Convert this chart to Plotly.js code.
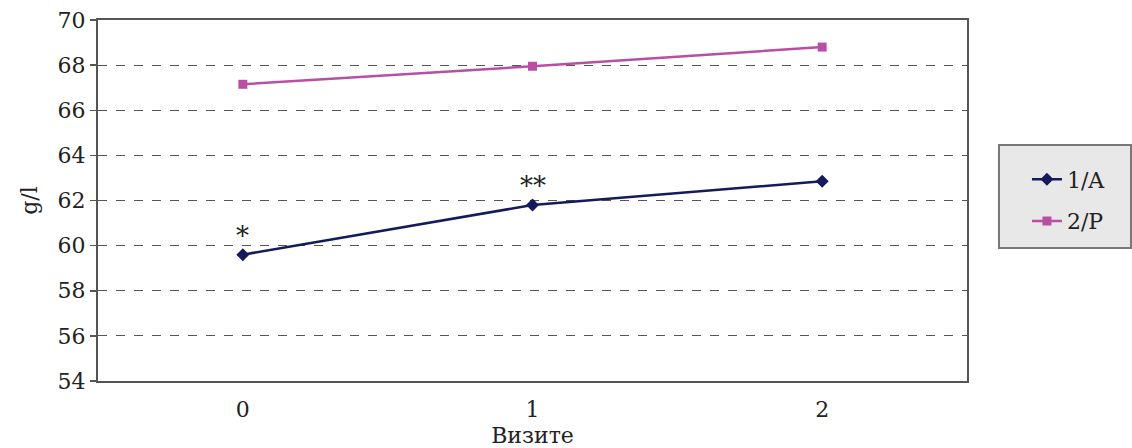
<!DOCTYPE html>
<html>
<head>
<meta charset="utf-8">
<script src="https://cdn.plot.ly/plotly-3.0.1.min.js"></script>
<style>
  html, body { margin: 0; padding: 0; background: #fff; }
  #chart { width: 1132px; height: 448px; }
</style>
</head>
<body>
<div id="chart"></div>
<script>
// Visits and mean values (g/l) for the two groups
const visits = [0, 1, 2];
const groupA = [59.6, 61.8, 62.85];
const groupP = [67.15, 67.95, 68.8];
const seriesNames = ['1/A', '2/P'];
const yTicks = [54, 56, 58, 60, 62, 64, 66, 68, 70];
// Significance markers placed above group A points
const markVisits = [0, 1];
const markLabels = ['*', '**'];

const family = 'DejaVu Serif, Liberation Serif, serif';
const font = { family: family, size: 22, color: '#222' };

const traces = [
  {
    x: visits, y: groupA, name: seriesNames[0], legendgroup: 'a', mode: 'lines+markers',
    line: { color: '#141a5c', width: 2.5 },
    marker: { symbol: 'diamond', size: 10, color: '#141a5c' }
  },
  {
    x: visits, y: groupP, name: seriesNames[1], legendgroup: 'p', mode: 'lines+markers',
    line: { color: '#b94fa4', width: 2.5 },
    marker: { symbol: 'square', size: 9, color: '#b94fa4' }
  }
];

const annotations = markVisits.map((v, i) => ({
  x: v, y: groupA[visits.indexOf(v)], xref: 'x', yref: 'y',
  text: markLabels[i], showarrow: false, yanchor: 'bottom', yshift: 2,
  font: { family: family, size: 26, color: '#222' }
}));

// Legend frame
const shapes = [{
  type: 'rect', xref: 'paper', yref: 'paper',
  x0: 1.0368, x1: 1.1887, y0: 0.3684, y1: 0.6537,
  fillcolor: '#e8e8e8', line: { color: '#777', width: 2 }, layer: 'below'
}];

const layout = {
  width: 1132, height: 448,
  margin: { l: 98, r: 165, t: 20, b: 67 },
  paper_bgcolor: '#fff', plot_bgcolor: '#fff',
  font: font,
  showlegend: true,
  legend: {
    x: 1.069, y: 0.50, xanchor: 'left', yanchor: 'middle',
    bgcolor: 'rgba(0,0,0,0)', borderwidth: 0,
    font: { family: family, size: 22, color: '#222' },
    traceorder: 'grouped', tracegroupgap: 10
  },
  xaxis: {
    range: [-0.5, 2.5], tickvals: visits, ticktext: visits.map(String),
    showgrid: false, zeroline: false,
    showline: true, linecolor: '#555', linewidth: 2, mirror: true,
    ticks: '', ticklen: 0, ticklabelstandoff: 8,
    title: { text: 'Визите', standoff: 10, font: { family: family, size: 22, color: '#222' } }
  },
  yaxis: {
    range: [54, 70], tickvals: yTicks,
    showgrid: true, gridcolor: '#555', griddash: 'dash', gridwidth: 1,
    zeroline: false,
    showline: true, linecolor: '#555', linewidth: 2, mirror: true,
    ticks: 'outside', ticklen: 6, tickcolor: '#555', tickwidth: 1.5,
    title: { text: 'g/l', standoff: 14, font: { family: family, size: 22, color: '#222' } }
  },
  shapes: shapes,
  annotations: annotations
};

Plotly.newPlot('chart', traces, layout, { displayModeBar: false, staticPlot: true });
</script>
</body>
</html>
